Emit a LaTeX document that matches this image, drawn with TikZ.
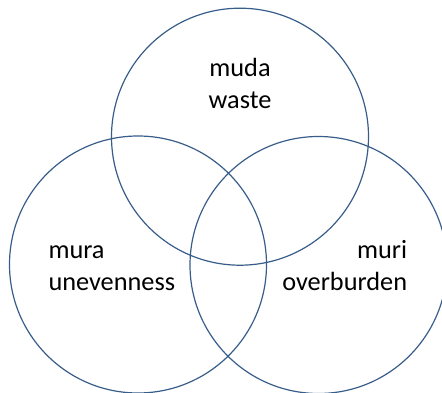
\documentclass[tikz,border=0pt]{standalone}
\usepackage{fontspec}
\setmainfont{Carlito}
\definecolor{ringblue}{HTML}{385D8A}
\begin{document}
\begin{tikzpicture}[x=1pt,y=-1pt,
  ring/.style={circle,draw=ringblue,line width=1.2pt,minimum size=257pt,inner sep=0pt},
  lbl/.style={inner sep=0pt,font=\fontsize{26.3}{32}\selectfont,text=black}]
\useasboundingbox (0,0) rectangle (442,393);
\node[ring] (top) at (240,136.7) {};
\node[ring] (left) at (138,264.5) {};
\node[ring] (right) at (318.5,265) {};
\node[lbl,align=center,anchor=base] (muda) at (240,108.3) {muda\\waste};
\node[lbl,align=left,anchor=base west] (mura) at (48.3,290) {mura\\unevenness};
\node[lbl,align=right,anchor=base east] (muri) at (407.3,290) {muri\\overburden};
\end{tikzpicture}
\end{document}
